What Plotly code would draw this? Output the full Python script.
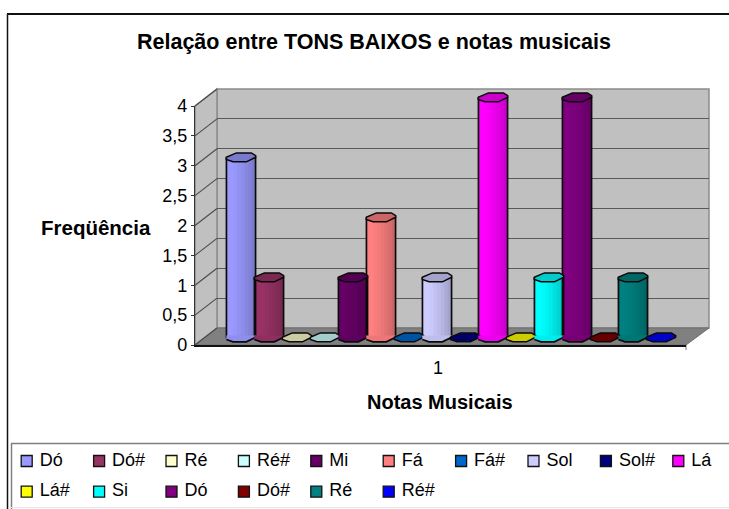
import plotly.graph_objects as go

WIDTH = 729
HEIGHT = 509

notes = ["Dó", "Dó#", "Ré", "Ré#", "Mi", "Fá", "Fá#", "Sol", "Sol#", "Lá", "Lá#", "Si", "Dó", "Dó#", "Ré", "Ré#"]
frequencies = [3, 1, 0, 0, 1, 2, 0, 1, 0, 4, 0, 1, 4, 0, 1, 0]
colors = ["#9999FF", "#993366", "#FFFFCC", "#CCFFFF", "#660066", "#FF8080", "#0066CC", "#CCCCFF",
          "#000080", "#FF00FF", "#FFFF00", "#00FFFF", "#800080", "#800000", "#008080", "#0000FF"]
y_ticks = [0, 0.5, 1, 1.5, 2, 2.5, 3, 3.5, 4]
category_labels = ["1"]

FONT = "Liberation Sans"
LEGEND_COLUMNS = 10
LEGEND_STEP_PX = 72.4
LEGEND_ROW_PX = 30.7

# cylinder look: shading from left to right, and the outline of the end caps in px from the centre
SHADE = [1.0, 1.0, 0.98, 0.95, 0.92, 0.88, 0.84, 0.80]
CAP_DX = [-14.7, -4.6, 10.4, 14.7, 14.7, 5.4, -8, -14.7, -14.7]
CAP_DY = [-0.3, -4.6, -4.6, -1.8, -0.3, 4.3, 4.3, 2, -0.3]
BAR_STEP_PX = 28
UNIT_PX = 60
OUTLINE = "#0A0A0A"


def px_x(x):
    return x / WIDTH


def px_y(y):
    return 1 - y / HEIGHT


def shade(color, factor):
    r, g, b = (int(color[i:i + 2], 16) for i in (1, 3, 5))
    return f"rgb({r * factor:.0f},{g * factor:.0f},{b * factor:.0f})"


def polygon(points, **kwargs):
    path = "M" + "L".join(f"{px_x(x):.5f},{px_y(y):.5f}" for x, y in points) + "Z"
    return dict(type="path", path=path, xref="paper", yref="paper", layer="below", **kwargs)


def segment(x0, y0, x1, y1, color, width):
    return dict(type="line", xref="paper", yref="paper", layer="below", x0=px_x(x0), y0=px_y(y0),
                x1=px_x(x1), y1=px_y(y1), line=dict(color=color, width=width))


fig = go.Figure()
positions = list(range(1, len(notes) + 1))

# bars: one trace per series, then the shading strips and the outline on top
for pos, note, value, color in zip(positions, notes, frequencies, colors):
    fig.add_trace(go.Bar(x=[pos], y=[value], name=note, width=1.04, marker=dict(color=color, line_width=0),
                         xaxis="x2", yaxis="y2", cliponaxis=False))

strip = 1.04 / len(SHADE)
for k, factor in enumerate(SHADE):
    fig.add_trace(go.Bar(x=[p - 0.52 + (k + 0.5) * strip for p in positions], y=frequencies, width=strip + 0.01,
                         marker=dict(color=[shade(c, factor) for c in colors], line_width=0),
                         xaxis="x2", yaxis="y2", cliponaxis=False))
fig.add_trace(go.Bar(x=positions, y=frequencies, width=1.04,
                     marker=dict(color="rgba(0,0,0,0)", line=dict(color=OUTLINE, width=1.7)),
                     xaxis="x2", yaxis="y2", cliponaxis=False))

# bottom and top ends of each cylinder
for pos, value, color in zip(positions, frequencies, colors):
    cap_x = [pos + dx / BAR_STEP_PX for dx in CAP_DX]
    base_y = [-dy / UNIT_PX for dy in CAP_DY]
    top_y = [value - dy / UNIT_PX for dy in CAP_DY]
    if value > 0:
        fig.add_trace(go.Scatter(x=[cap_x[3], cap_x[4], cap_x[5], cap_x[6], cap_x[7], cap_x[8]],
                                 y=[2 / UNIT_PX, base_y[4], base_y[5], base_y[6], base_y[7], 2 / UNIT_PX],
                                 mode="none", fill="toself", fillcolor=shade(color, 0.93),
                                 xaxis="x2", yaxis="y2"))
        fig.add_trace(go.Scatter(x=cap_x[4:8], y=base_y[4:8], mode="lines",
                                 line=dict(color=OUTLINE, width=1.7), xaxis="x2", yaxis="y2"))
    fig.add_trace(go.Scatter(x=cap_x, y=top_y, mode="lines", fill="toself", fillcolor=shade(color, 0.8),
                             line=dict(color=OUTLINE, width=1.5), xaxis="x2", yaxis="y2"))

# front axes, only there for the ticks
fig.add_trace(go.Scatter(x=[None], y=[None], xaxis="x3", yaxis="y3"))
fig.add_trace(go.Scatter(x=[None], y=[None], xaxis="x", yaxis="y"))

# legend laid out on its own axes, two fixed rows of ten columns
legend_x = [i % LEGEND_COLUMNS for i in range(len(notes))]
legend_y = [i // LEGEND_COLUMNS for i in range(len(notes))]
fig.add_trace(go.Scatter(x=legend_x, y=legend_y, mode="markers",
                         marker=dict(symbol="square", size=11, color=colors, line=dict(color="#111111", width=1.3)),
                         xaxis="x4", yaxis="y4"))
fig.add_trace(go.Scatter(x=[x + 13 / LEGEND_STEP_PX for x in legend_x], y=legend_y, mode="text", text=notes,
                         textposition="middle right", textfont=dict(family=FONT, size=18, color="black"),
                         xaxis="x4", yaxis="y4"))

# 3D box behind the bars
FRONT_L, FRONT_R, BACK_L, BACK_R = 195, 686, 217, 709
FRONT_TOP, FRONT_BOT, BACK_TOP, BACK_BOT = 106, 345, 89, 328
shapes = [
    polygon([(BACK_L, BACK_TOP), (BACK_R, BACK_TOP), (BACK_R, BACK_BOT), (BACK_L, BACK_BOT)],
            fillcolor="#C0C0C0", line=dict(color="#8C8C8C", width=1.5)),
    polygon([(FRONT_L, FRONT_TOP), (BACK_L, BACK_TOP), (BACK_L, BACK_BOT), (FRONT_L, FRONT_BOT)],
            fillcolor="#C0C0C0", line=dict(color="#8C8C8C", width=1.5)),
    polygon([(FRONT_L, FRONT_BOT), (BACK_L, BACK_BOT), (BACK_R, BACK_BOT), (FRONT_R, FRONT_BOT)],
            fillcolor="#808080", line=dict(color="#6E6E6E", width=1)),
    segment(FRONT_R, FRONT_BOT, FRONT_R, FRONT_BOT + 5, "#777777", 1),
    # chart frame and legend box, both run off the right edge
    segment(7, 14, WIDTH, 14, "#111111", 2),
    segment(7.5, 14, 7.5, HEIGHT, "#111111", 1.5),
    segment(11, 443.5, WIDTH, 443.5, "#808080", 1.5),
    segment(11.5, 443.5, 11.5, HEIGHT, "#808080", 1.5),
    segment(11, 507.5, WIDTH, 507.5, "#E6E6E6", 1),
]
for tick in y_ticks[1:]:
    y_front = FRONT_BOT + (FRONT_TOP - FRONT_BOT) * tick / y_ticks[-1]
    y_back = BACK_BOT + (BACK_TOP - BACK_BOT) * tick / y_ticks[-1]
    shapes.append(segment(FRONT_L, y_front, BACK_L, y_back, "#4D4D4D", 1.2))
shapes.append(segment(FRONT_L, FRONT_BOT, BACK_L, BACK_BOT, "#4D4D4D", 1.2))


def label(text, x, y, size):
    return dict(text=f"<b>{text}</b>", x=px_x(x), y=px_y(y), xref="paper", yref="paper", showarrow=False,
                xanchor="center", yanchor="middle", font=dict(family=FONT, size=size, color="black"))


fig.update_layout(
    template="none",
    width=WIDTH,
    height=HEIGHT,
    margin=dict(l=0, r=0, t=0, b=0),
    paper_bgcolor="white",
    plot_bgcolor="rgba(0,0,0,0)",
    barmode="overlay",
    showlegend=False,
    hovermode=False,
    separators=", ",
    shapes=shapes,
    annotations=[
        label("Relação entre TONS BAIXOS e notas musicais", 373.5, 42, 21.5),
        label("Freqüência", 95.5, 227, 20.5),
        label("Notas Musicais", 440, 402, 20),
    ],
    # back wall with its gridlines
    xaxis=dict(visible=False, range=[0, 1], domain=[px_x(BACK_L), px_x(BACK_R)], anchor="y"),
    yaxis=dict(range=[y_ticks[0], y_ticks[-1]], domain=[px_y(BACK_BOT), px_y(BACK_TOP)], anchor="x",
               tickvals=y_ticks[1:-1], showticklabels=False, ticks="", showline=False, zeroline=False,
               gridcolor="#595959", gridwidth=1.4),
    # bars sit half way into the box
    xaxis2=dict(visible=False, domain=[px_x(206), px_x(697)], anchor="y2",
                range=[1 - 35 / BAR_STEP_PX, 1 + 456 / BAR_STEP_PX]),
    yaxis2=dict(visible=False, domain=[px_y(349.5), px_y(85.5)], anchor="x2", range=[-0.2, 4.2]),
    # front edge carries the tick labels
    xaxis3=dict(range=[0, 1], domain=[px_x(FRONT_L), px_x(FRONT_R)], anchor="y3", tickvals=[0.495],
                ticktext=category_labels, ticks="outside", ticklen=6, tickcolor="rgba(0,0,0,0)",
                tickfont=dict(family=FONT, size=18, color="black"), showgrid=False, zeroline=False,
                showline=True, linecolor="#111111", linewidth=1.5),
    yaxis3=dict(range=[y_ticks[0], y_ticks[-1]], domain=[px_y(FRONT_BOT), px_y(FRONT_TOP)], anchor="x3",
                tickvals=y_ticks, ticks="outside", ticklen=3, tickcolor="#333333", tickwidth=1.2,
                tickfont=dict(family=FONT, size=18, color="black"), showgrid=False, zeroline=False,
                showline=True, linecolor="#333333", linewidth=1.2),
    xaxis4=dict(visible=False, domain=[0, 1], anchor="y4",
                range=[-26.7 / LEGEND_STEP_PX, (WIDTH - 26.7) / LEGEND_STEP_PX]),
    yaxis4=dict(visible=False, domain=[px_y(509), px_y(443)], anchor="x4",
                range=[(509 - 461) / LEGEND_ROW_PX, (443 - 461) / LEGEND_ROW_PX]),
)

fig.write_html("out.html", config=dict(displayModeBar=False),
               post_script="document.body.style.margin='0';document.body.style.overflow='hidden';")
